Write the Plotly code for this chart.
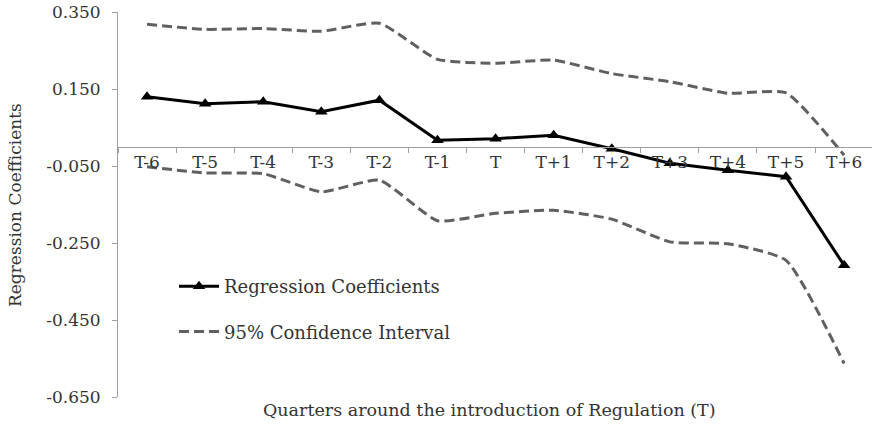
import plotly.graph_objects as go

quarters = ["T-6", "T-5", "T-4", "T-3", "T-2", "T-1", "T", "T+1", "T+2", "T+3", "T+4", "T+5", "T+6"]
coef = [0.130, 0.112, 0.117, 0.091, 0.121, 0.017, 0.021, 0.030, -0.005, -0.043, -0.061, -0.078, -0.308]
ci_upper = [0.318, 0.305, 0.307, 0.300, 0.321, 0.227, 0.217, 0.225, 0.190, 0.169, 0.139, 0.140, -0.022]
ci_lower = [-0.052, -0.068, -0.070, -0.117, -0.087, -0.192, -0.173, -0.165, -0.188, -0.247, -0.252, -0.295, -0.563]
y_tick_values = [-0.65, -0.45, -0.25, -0.05, 0.15, 0.35]
y_tick_labels = ["-0.650", "-0.450", "-0.250", "-0.050", "0.150", "0.350"]

FONT = "DejaVu Serif"
TXT = "#333333"
CI_COLOR = "#606060"
AX = "#a0a0a0"

fig = go.Figure()
fig.add_trace(go.Scatter(
    x=quarters, y=coef, mode="lines+markers", name="Regression Coefficients",
    line=dict(color="black", width=3),
    marker=dict(symbol="triangle-up", size=11, color="black"),
    legendgroup="reg",
))
fig.add_trace(go.Scatter(
    x=quarters, y=ci_upper, mode="lines", name="95% Confidence Interval",
    line=dict(color=CI_COLOR, width=3, dash="10px,5px", shape="spline", smoothing=0.5),
    legendgroup="ci",
))
fig.add_trace(go.Scatter(
    x=quarters, y=ci_lower, mode="lines", name="95% Confidence Interval",
    line=dict(color=CI_COLOR, width=3, dash="10px,5px", shape="spline", smoothing=0.5),
    legendgroup="ci", showlegend=False,
))

ymin, ymax = -0.65, 0.35
PL, PT, PB = 118, 12, 31
PW, PH = 872 - PL, 428 - PT - PB

fig.update_layout(
    width=872, height=428,
    margin=dict(l=PL, r=0, t=PT, b=PB, autoexpand=False),
    paper_bgcolor="white", plot_bgcolor="white",
    font=dict(family=FONT, size=17, color=TXT),
    showlegend=True,
    legend=dict(
        x=(174 - PL) / PW, y=(PT + PH - 268) / PH, xanchor="left", yanchor="top",
        bgcolor="rgba(0,0,0,0)", font=dict(size=18, family=FONT, color=TXT),
        tracegroupgap=19, itemwidth=40,
    ),
    xaxis=dict(
        type="category", range=[-0.5, 12.48],
        anchor="free", position=(0 - ymin) / (ymax - ymin),
        showline=True, linecolor=AX, linewidth=1,
        ticks="outside", ticklen=5, tickcolor=AX, tickson="boundaries",
        showgrid=False, zeroline=False, automargin=False,
        tickfont=dict(size=17, family=FONT, color=TXT),
    ),
    yaxis=dict(
        range=[ymin, ymax], tickvals=y_tick_values, ticktext=y_tick_labels,
        showline=True, linecolor=AX, linewidth=1,
        ticks="outside", ticklen=5, tickcolor=AX,
        showgrid=False, zeroline=False, automargin=False,
        tickfont=dict(size=17, family=FONT, color=TXT),
        ticklabelstandoff=8,
    ),
    annotations=[
        dict(text="Quarters around the introduction of Regulation (T)", xref="paper", yref="paper",
             x=(489 - PL) / PW, y=-(410 - PT - PH) / PH, xanchor="center", yanchor="middle",
             showarrow=False, font=dict(size=17.5, family=FONT, color=TXT)),
        dict(text="Regression Coefficients", xref="paper", yref="paper",
             x=-(PL - 15) / PW, y=(PT + PH - 205) / PH, xanchor="center", yanchor="middle",
             textangle=-90, showarrow=False, font=dict(size=17, family=FONT, color=TXT)),
    ],
)

fig.write_html("out.html", config={"displayModeBar": False},
               post_script="document.body.style.margin='0';document.body.style.padding='0';")
